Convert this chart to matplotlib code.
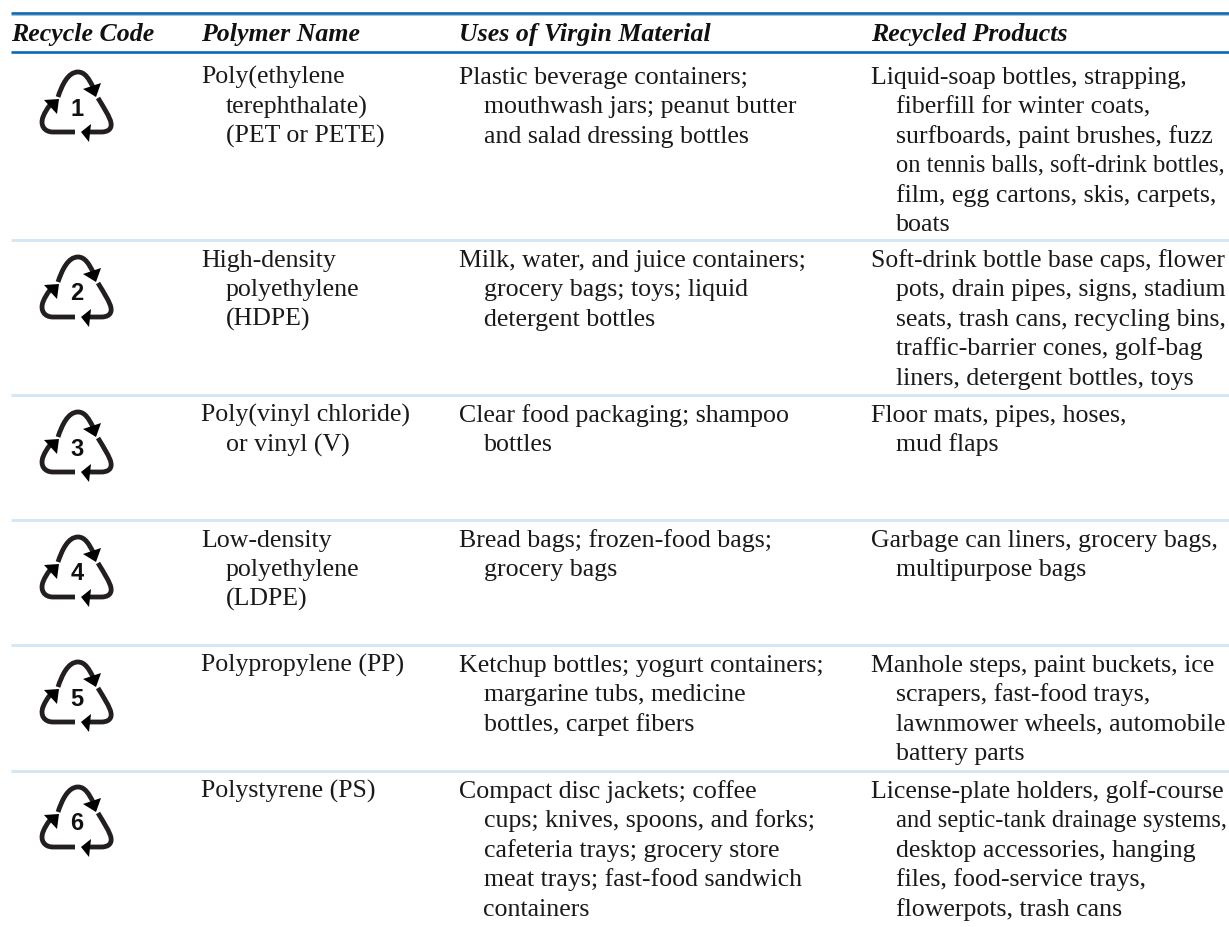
"""Recycling codes table, drawn as text, rules and arrow icons."""
import matplotlib
matplotlib.use("Agg")
import matplotlib.pyplot as plt
from matplotlib.patches import PathPatch, Polygon
from matplotlib.path import Path

WIDTH, HEIGHT = 1229, 927

headers = ["Recycle Code", "Polymer Name", "Uses of Virgin Material", "Recycled Products"]
codes = ["1", "2", "3", "4", "5", "6"]

polymers = [
    ["Poly(ethylene", "terephthalate)", "(PET or PETE)"],
    ["High-density", "polyethylene", "(HDPE)"],
    ["Poly(vinyl chloride)", "or vinyl (V)"],
    ["Low-density", "polyethylene", "(LDPE)"],
    ["Polypropylene (PP)"],
    ["Polystyrene (PS)"],
]
virgin_uses = [
    ["Plastic beverage containers;", "mouthwash jars; peanut butter", "and salad dressing bottles"],
    ["Milk, water, and juice containers;", "grocery bags; toys; liquid", "detergent bottles"],
    ["Clear food packaging; shampoo", "bottles"],
    ["Bread bags; frozen-food bags;", "grocery bags"],
    ["Ketchup bottles; yogurt containers;", "margarine tubs, medicine", "bottles, carpet fibers"],
    ["Compact disc jackets; coffee", "cups; knives, spoons, and forks;", "cafeteria trays; grocery store",
     "meat trays; fast-food sandwich", "containers"],
]
recycled = [
    ["Liquid-soap bottles, strapping,", "fiberfill for winter coats,", "surfboards, paint brushes, fuzz",
     "on tennis balls, soft-drink bottles,", "film, egg cartons, skis, carpets,", "boats"],
    ["Soft-drink bottle base caps, flower", "pots, drain pipes, signs, stadium",
     "seats, trash cans, recycling bins,", "traffic-barrier cones, golf-bag",
     "liners, detergent bottles, toys"],
    ["Floor mats, pipes, hoses,", "mud flaps"],
    ["Garbage can liners, grocery bags,", "multipurpose bags"],
    ["Manhole steps, paint buckets, ice", "scrapers, fast-food trays,",
     "lawnmower wheels, automobile", "battery parts"],
    ["License-plate holders, golf-course", "and septic-tank drainage systems,",
     "desktop accessories, hanging", "files, food-service trays,", "flowerpots, trash cans"],
]

# layout, in pixels of the target image
COL_X = [11, 201, 459, 871]
INDENT = 24.5
LINE_H = 29.4
RIGHT_EDGE = 1226
RULE_Y = [52, 240, 395, 520, 645, 771]
ICON_Y = [107, 292, 447, 572, 697, 822]
BLUE = "#0b66b0"
PALE = "#d6e6f2"
INK = "#1a1a1a"
SERIF = "Liberation Serif"
BODY_SIZE = 18.6
PT = 0.72

M, L, C = Path.MOVETO, Path.LINETO, Path.CURVE4

# arrow shape relative to the digit centre
STROKES = [
    ([(-19, -10), (-15, -22), (-9, -35), (1, -35), (8, -35), (12, -28), (16, -20)],
     [M, C, C, C, C, C, C]),
    ([(21, -9), (27, 1), (33, 10), (34, 16), (35, 22), (31, 25), (24, 25), (10, 25)],
     [M, C, C, C, C, C, C, L]),
    ([(-2, 25), (-24, 25), (-33, 25), (-37, 18), (-34, 10), (-32, 5), (-29, 0), (-26, -3)],
     [M, L, C, C, C, C, C, C]),
]
HEADS = [
    [(6, -18), (24, -24), (19, -10)],
    [(14, 17), (12, 35), (4, 25)],
    [(-33, -7), (-18, -8), (-20, 7)],
]


def draw_icon(ax, cx, cy, code):
    """Three chasing arrows around the code digit."""
    for pts, kinds in STROKES:
        verts = [(cx + x, cy + y) for x, y in pts]
        ax.add_patch(PathPatch(Path(verts, kinds), fill=False, ec="#231f20",
                               lw=4.8 * PT, capstyle="butt"))
    for tri in HEADS:
        ax.add_patch(Polygon([(cx + x, cy + y) for x, y in tri], closed=True,
                             fc="black", ec="none"))
    ax.text(cx, cy + 8.5, code, family="Liberation Sans", weight="bold",
            fontsize=17, color="#111111", ha="center", va="baseline")


def draw_cell(ax, x, y, lines):
    for i, line in enumerate(lines):
        left = x + (INDENT if i else 0)
        t = ax.text(left, y + i * LINE_H, line, family=SERIF,
                    fontsize=BODY_SIZE, color=INK, ha="left", va="baseline")
        # the source sets its longest lines tighter, so they stop short of the edge
        box = t.get_window_extent(fig.canvas.get_renderer())
        if box.x1 > RIGHT_EDGE:
            t.set_fontsize(BODY_SIZE * (RIGHT_EDGE - left) / box.width)


fig = plt.figure(figsize=(WIDTH / 100, HEIGHT / 100), dpi=100)
ax = fig.add_axes([0, 0, 1, 1])
ax.set_xlim(0, WIDTH)
ax.set_ylim(HEIGHT, 0)
ax.axis("off")

# heavy blue rules above and below the header
for y in [13, 52]:
    ax.plot([11, WIDTH], [y, y], color=BLUE, lw=2.6 * PT, solid_capstyle="butt")
ax.plot([11, WIDTH], [15, 15], color="#9cc3e0", lw=1 * PT, solid_capstyle="butt")

for y in RULE_Y[1:]:
    ax.plot([11, WIDTH], [y, y], color=PALE, lw=3 * PT, solid_capstyle="butt")

for x, head in zip(COL_X, headers):
    ax.text(x, 41, head, family=SERIF, weight="bold", style="italic",
            fontsize=BODY_SIZE, color="#111111", ha="left", va="baseline")

for row, code in enumerate(codes):
    base = RULE_Y[row] + (32 if row == 0 else 27)
    draw_icon(ax, 77, ICON_Y[row], code)
    draw_cell(ax, COL_X[1], base, polymers[row])
    draw_cell(ax, COL_X[2], base, virgin_uses[row])
    draw_cell(ax, COL_X[3], base, recycled[row])

fig.savefig("out.png", dpi=100)
plt.close(fig)
